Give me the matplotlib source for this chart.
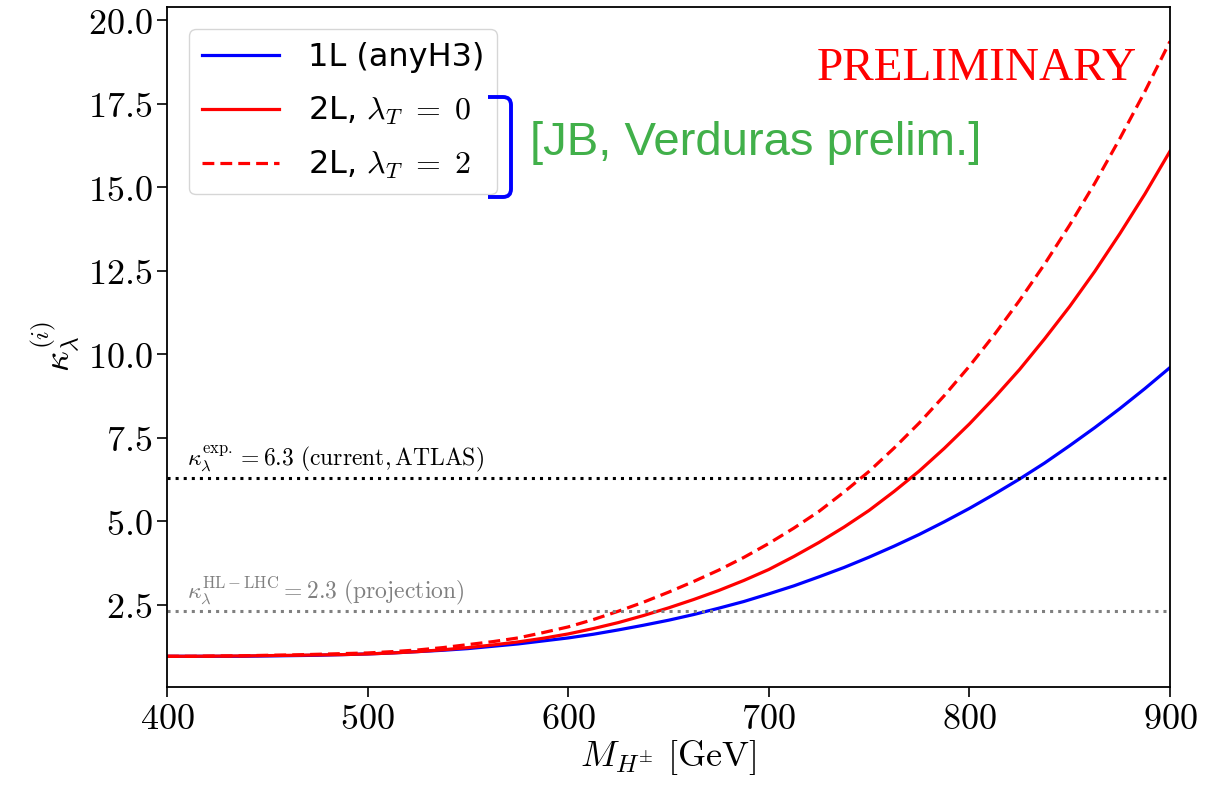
import matplotlib
matplotlib.use("Agg")
import matplotlib.pyplot as plt
from matplotlib.path import Path
from matplotlib.patches import PathPatch
from matplotlib.ticker import FuncFormatter

plt.rcParams['mathtext.fontset'] = 'cm'
plt.rcParams['font.family'] = ['DejaVu Sans']

# ---- data ----
mass = [400, 412.5, 425, 437.5, 450, 462.5, 475, 487.5, 500, 512.5, 525,
        537.5, 550, 562.5, 575, 587.5, 600, 612.5, 625, 637.5, 650,
        662.5, 675, 687.5, 700, 712.5, 725, 737.5, 750, 762.5, 775,
        787.5, 800, 812.5, 825, 837.5, 850, 862.5, 875, 887.5, 900]
kappa_1L = [0.95, 0.95, 0.95, 0.95, 0.96, 0.97, 0.98, 1.00, 1.02, 1.05, 1.09,
            1.13, 1.18, 1.25, 1.32, 1.41, 1.50, 1.61, 1.74, 1.88, 2.03,
            2.20, 2.39, 2.59, 2.82, 3.06, 3.33, 3.61, 3.92, 4.25, 4.60,
            4.98, 5.38, 5.81, 6.26, 6.74, 7.26, 7.80, 8.37, 8.97, 9.60]
kappa_2L_lt0 = [0.95, 0.95, 0.955, 0.96, 0.97, 0.98, 0.99, 1.00, 1.02, 1.05, 1.09,
                1.145, 1.21, 1.29, 1.38, 1.49, 1.62, 1.78, 1.96, 2.17, 2.40,
                2.65, 2.92, 3.22, 3.55, 3.94, 4.36, 4.82, 5.32, 5.89, 6.50,
                7.18, 7.91, 8.70, 9.54, 10.46, 11.43, 12.48, 13.61, 14.80, 16.08]
kappa_2L_lt2 = [0.95, 0.95, 0.96, 0.965, 0.98, 0.99, 1.01, 1.03, 1.05, 1.09, 1.14,
                1.21, 1.30, 1.39, 1.50, 1.66, 1.83, 2.05, 2.30, 2.57, 2.87,
                3.19, 3.53, 3.91, 4.33, 4.79, 5.29, 5.87, 6.49, 7.19, 7.94,
                8.76, 9.64, 10.59, 11.61, 12.70, 13.87, 15.12, 16.46, 17.87, 19.37]
kappa_exp_current = 6.3
kappa_hllhc = 2.3
xticks = [400, 500, 600, 700, 800, 900]
yticks = [2.5, 5.0, 7.5, 10.0, 12.5, 15.0, 17.5, 20.0]

fig = plt.figure(figsize=(12.08, 7.86), dpi=100)
ax = fig.add_axes([167/1208, 1-687/786, (1170-167)/1208, (687-7)/786])

ax.plot(mass, kappa_1L, color='blue', lw=2.3, label='1L (anyH3)')
ax.plot(mass, kappa_2L_lt0, color='red', lw=2.3, label=r'2L, $\lambda_T\ =\ 0$')
ax.plot(mass, kappa_2L_lt2, color='red', lw=2.3, ls='--', dashes=(3.7, 1.9),
        label=r'2L, $\lambda_T\ =\ 2$')

ax.axhline(kappa_exp_current, color='black', ls=':', lw=2.2)
ax.axhline(kappa_hllhc, color='grey', ls=':', lw=2.2)
ax.text(410, kappa_exp_current + 0.12,
        r'$\kappa_\lambda^{\rm exp.}=6.3\ \mathrm{(current,ATLAS)}$',
        fontsize=17, color='black', va='bottom', ha='left')
ax.text(410, kappa_hllhc + 0.12,
        r'$\kappa_\lambda^{\rm HL-LHC}=2.3\ \mathrm{(projection)}$',
        fontsize=17, color='grey', va='bottom', ha='left')

ax.set_xlim(400, 900)
ax.set_ylim(0.03, 20.4)
ax.set_xticks(xticks)
ax.set_yticks(yticks)
ax.xaxis.set_major_formatter(FuncFormatter(lambda v, p: r'$%d$' % v))
ax.yaxis.set_major_formatter(FuncFormatter(lambda v, p: r'$%.1f$' % v))
ax.tick_params(labelsize=26, length=7, width=1.2)
for s in ax.spines.values():
    s.set_linewidth(1.3)

ax.set_xlabel(r'$M_{H^{\pm}}\ [\mathrm{GeV}]$', fontsize=26, labelpad=2)
ax.set_ylabel(r'$\kappa_\lambda^{(i)}$', fontsize=26, labelpad=4)

ax.legend(loc='upper left', fontsize=23, handlelength=2.4, handletextpad=0.9,
          labelspacing=0.68, borderaxespad=0.7, fancybox=True)

ax.text(0.967, 0.893, 'PRELIMINARY', transform=ax.transAxes, ha='right',
        va='baseline', color='red', fontsize=34, family='Liberation Serif')

fig.text(530/1208, 1-143/786, '[JB, Verduras prelim.]', ha='left', va='center',
         color='#41b04a', fontsize=34, family='Liberation Sans')

# blue bracket
W, H = 1208.0, 786.0
x0, x1 = 488/W, 511/W
yt, yb = 1-97/H, 1-197/H
r = 8/H
rx = 8/W
verts = [(x0, yt), (x1-rx, yt), (x1, yt), (x1, yt-r), (x1, yb+r), (x1, yb), (x1-rx, yb), (x0, yb)]
codes = [Path.MOVETO, Path.LINETO, Path.CURVE3, Path.CURVE3, Path.LINETO,
         Path.CURVE3, Path.CURVE3, Path.LINETO]
fig.add_artist(PathPatch(Path(verts, codes), transform=fig.transFigure,
                         fill=False, edgecolor='blue', lw=2.8))

fig.savefig('out.png', dpi=100)
